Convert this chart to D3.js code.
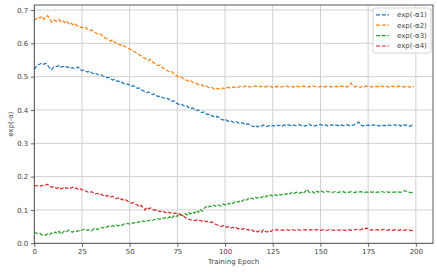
<!DOCTYPE html>
<html><head><meta charset="utf-8">
<script src="https://cdn.jsdelivr.net/npm/d3@7"></script>
<style>html,body{margin:0;padding:0;background:#fff;}svg{display:block;font-family:"DejaVu Sans",sans-serif;}</style>
</head><body>
<svg id="chart" width="437" height="274"></svg>
<script>
const seriesNames = ["exp(-α1)", "exp(-α2)", "exp(-α3)", "exp(-α4)"];
const colors = ["#1f77b4", "#ff7f0e", "#2ca02c", "#d62728"];
const xTicks = [0, 25, 50, 75, 100, 125, 150, 175, 200];
const yTicks = [0.0, 0.1, 0.2, 0.3, 0.4, 0.5, 0.6, 0.7];
const xLabel = "Training Epoch";
const yLabel = "exp(-α)";

const a1 = [
0.522,0.530,0.536,0.538,0.541,0.537,0.540,0.534,0.526,0.521,
0.528,0.532,0.530,0.534,0.529,0.531,0.527,0.530,0.528,0.525,
0.527,0.524,0.526,0.529,0.522,0.518,0.520,0.516,0.514,0.517,
0.512,0.509,0.511,0.507,0.505,0.506,0.502,0.500,0.497,0.498,
0.494,0.490,0.492,0.488,0.485,0.487,0.482,0.479,0.476,0.478,
0.474,0.471,0.473,0.468,0.465,0.466,0.461,0.458,0.455,0.452,
0.454,0.449,0.446,0.448,0.443,0.440,0.442,0.438,0.436,0.433,
0.435,0.429,0.426,0.428,0.422,0.419,0.416,0.418,0.414,0.410,
0.412,0.407,0.404,0.406,0.401,0.398,0.400,0.395,0.392,0.394,
0.389,0.386,0.388,0.383,0.380,0.378,0.381,0.376,0.372,0.370,
0.373,0.368,0.366,0.368,0.364,0.362,0.365,0.361,0.359,0.362,
0.358,0.356,0.359,0.355,0.352,0.350,0.354,0.349,0.353,0.351,
0.355,0.352,0.350,0.353,0.351,0.354,0.352,0.355,0.353,0.354,
0.352,0.355,0.353,0.356,0.354,0.352,0.355,0.353,0.354,0.356,
0.353,0.355,0.352,0.354,0.358,0.353,0.355,0.352,0.354,0.355,
0.357,0.354,0.353,0.355,0.352,0.354,0.356,0.353,0.355,0.354,
0.352,0.355,0.353,0.354,0.356,0.353,0.355,0.354,0.357,0.359,
0.364,0.356,0.352,0.354,0.353,0.355,0.352,0.354,0.356,0.353,
0.354,0.352,0.355,0.353,0.354,0.352,0.355,0.353,0.354,0.356,
0.353,0.355,0.352,0.357,0.354,0.355,0.353,0.351,0.355,0.357];

const a2 = [
0.668,0.674,0.679,0.676,0.681,0.672,0.678,0.683,0.675,0.664,
0.670,0.668,0.666,0.671,0.664,0.667,0.662,0.668,0.659,0.663,
0.656,0.660,0.655,0.651,0.648,0.649,0.645,0.647,0.642,0.638,
0.640,0.635,0.632,0.629,0.631,0.626,0.622,0.617,0.614,0.610,
0.607,0.611,0.603,0.601,0.598,0.594,0.597,0.592,0.589,0.586,
0.583,0.580,0.576,0.573,0.569,0.566,0.562,0.558,0.555,0.552,
0.548,0.552,0.544,0.540,0.536,0.533,0.535,0.528,0.524,0.520,
0.517,0.513,0.515,0.509,0.505,0.502,0.498,0.500,0.494,0.491,
0.489,0.486,0.488,0.483,0.481,0.479,0.476,0.478,0.474,0.471,
0.473,0.469,0.466,0.468,0.464,0.462,0.465,0.463,0.461,0.466,
0.464,0.467,0.468,0.466,0.469,0.467,0.470,0.468,0.471,0.469,
0.470,0.472,0.469,0.471,0.468,0.470,0.472,0.469,0.471,0.470,
0.472,0.469,0.471,0.473,0.470,0.468,0.471,0.469,0.472,0.470,
0.469,0.471,0.473,0.470,0.468,0.471,0.469,0.472,0.470,0.471,
0.469,0.472,0.470,0.468,0.471,0.469,0.472,0.470,0.471,0.469,
0.470,0.472,0.469,0.471,0.470,0.471,0.469,0.472,0.470,0.471,
0.469,0.472,0.470,0.471,0.469,0.474,0.481,0.473,0.469,0.472,
0.470,0.468,0.471,0.469,0.472,0.470,0.471,0.469,0.472,0.470,
0.471,0.469,0.472,0.470,0.468,0.471,0.469,0.472,0.470,0.471,
0.469,0.472,0.470,0.471,0.469,0.472,0.470,0.468,0.471,0.470];

const a3 = [
0.034,0.031,0.028,0.030,0.025,0.027,0.024,0.029,0.026,0.031,
0.028,0.034,0.030,0.036,0.027,0.033,0.038,0.035,0.040,0.036,
0.033,0.037,0.035,0.038,0.036,0.040,0.042,0.038,0.041,0.039,
0.037,0.043,0.046,0.041,0.045,0.048,0.046,0.050,0.048,0.052,
0.050,0.053,0.051,0.055,0.052,0.056,0.054,0.058,0.057,0.060,
0.058,0.062,0.060,0.064,0.062,0.065,0.063,0.067,0.065,0.069,
0.067,0.070,0.068,0.072,0.070,0.074,0.072,0.076,0.074,0.078,
0.076,0.080,0.074,0.082,0.078,0.084,0.080,0.086,0.083,0.089,
0.085,0.092,0.088,0.095,0.090,0.098,0.093,0.102,0.096,0.105,
0.110,0.107,0.112,0.109,0.114,0.111,0.116,0.113,0.112,0.118,
0.115,0.120,0.117,0.122,0.119,0.124,0.127,0.123,0.129,0.126,
0.131,0.128,0.134,0.131,0.136,0.133,0.138,0.135,0.140,0.137,
0.141,0.138,0.143,0.140,0.145,0.142,0.146,0.143,0.148,0.145,
0.147,0.150,0.146,0.151,0.148,0.153,0.149,0.152,0.154,0.150,
0.153,0.149,0.156,0.162,0.154,0.151,0.155,0.150,0.156,0.153,
0.158,0.155,0.153,0.156,0.154,0.155,0.153,0.154,0.156,0.152,
0.154,0.153,0.155,0.152,0.154,0.153,0.155,0.154,0.152,0.154,
0.153,0.155,0.154,0.152,0.154,0.153,0.155,0.153,0.154,0.152,
0.154,0.153,0.155,0.154,0.152,0.154,0.153,0.155,0.153,0.154,
0.152,0.154,0.153,0.155,0.158,0.156,0.154,0.152,0.153,0.151];

const a4 = [
0.174,0.172,0.173,0.171,0.174,0.172,0.175,0.177,0.171,0.168,
0.170,0.167,0.165,0.168,0.163,0.166,0.169,0.164,0.167,0.165,
0.168,0.163,0.166,0.162,0.164,0.160,0.161,0.157,0.154,0.152,
0.155,0.151,0.148,0.150,0.146,0.148,0.143,0.145,0.141,0.143,
0.139,0.141,0.137,0.134,0.136,0.131,0.133,0.128,0.130,0.126,
0.123,0.120,0.122,0.117,0.115,0.110,0.114,0.107,0.100,0.108,
0.104,0.106,0.102,0.099,0.101,0.097,0.095,0.098,0.094,0.092,
0.095,0.091,0.093,0.089,0.091,0.087,0.089,0.085,0.083,0.078,
0.074,0.072,0.070,0.071,0.068,0.070,0.067,0.069,0.066,0.068,
0.065,0.066,0.063,0.064,0.061,0.057,0.055,0.052,0.050,0.053,
0.051,0.048,0.050,0.046,0.048,0.045,0.047,0.043,0.045,0.042,
0.044,0.040,0.042,0.038,0.040,0.036,0.039,0.034,0.037,0.033,
0.041,0.036,0.034,0.038,0.035,0.040,0.039,0.041,0.040,0.039,
0.040,0.039,0.041,0.040,0.039,0.041,0.040,0.039,0.041,0.040,
0.039,0.040,0.041,0.039,0.040,0.041,0.039,0.040,0.040,0.041,
0.039,0.040,0.041,0.039,0.040,0.042,0.040,0.039,0.041,0.040,
0.039,0.041,0.040,0.039,0.040,0.041,0.039,0.041,0.040,0.042,
0.040,0.041,0.043,0.041,0.046,0.042,0.040,0.041,0.039,0.040,
0.041,0.039,0.040,0.042,0.040,0.039,0.041,0.040,0.039,0.041,
0.040,0.039,0.041,0.040,0.039,0.041,0.040,0.039,0.038,0.039];

const seriesValues = [a1, a2, a3, a4];

const svg = d3.select("#chart");
const L = 34.3, R = 433, T = 5, B = 243.3;
const x = d3.scaleLinear().domain([0, 209]).range([L, R]);
const y = d3.scaleLinear().domain([0, 0.715]).range([B, T]);

// grid
svg.append("g").selectAll("line").data(xTicks).join("line")
  .attr("x1", d => x(d)).attr("x2", d => x(d)).attr("y1", T).attr("y2", B)
  .attr("stroke", "#d0d0d0").attr("stroke-width", 1);
svg.append("g").selectAll("line").data(yTicks).join("line")
  .attr("x1", L).attr("x2", R).attr("y1", d => y(d)).attr("y2", d => y(d))
  .attr("stroke", "#d0d0d0").attr("stroke-width", 1);

// axes
const xAxis = d3.axisBottom(x).tickValues(xTicks).tickFormat(d3.format("d")).tickSize(3.5).tickPadding(2.5);
const yAxis = d3.axisLeft(y).tickValues(yTicks).tickFormat(d3.format(".1f")).tickSize(3.5).tickPadding(2.5);
const gx = svg.append("g").attr("transform", `translate(0,${B})`).call(xAxis);
const gy = svg.append("g").attr("transform", `translate(${L},0)`).call(yAxis);
[gx, gy].forEach(g => {
  g.select(".domain").remove();
  g.selectAll(".tick line").attr("stroke", "#444").attr("stroke-width", 0.8);
  g.selectAll(".tick text").attr("fill", "#444").style("font-size", "7px").style("font-family", "DejaVu Sans");
});

// lines
const line = d3.line().x((d, i) => x(i)).y(d => y(d));
const plot = svg.append("g");
seriesValues.forEach((vals, k) => {
  plot.append("path").datum(vals).attr("d", line)
    .attr("fill", "none").attr("stroke", colors[k]).attr("stroke-width", 1.2)
    .attr("stroke-dasharray", "4,1.8");
});

// frame
svg.append("rect").attr("x", L).attr("y", T).attr("width", R - L).attr("height", B - T)
  .attr("fill", "none").attr("stroke", "#444").attr("stroke-width", 0.9);

// labels
svg.append("text").attr("x", (L + R) / 2).attr("y", 263.5).attr("text-anchor", "middle")
  .style("font-size", "7px").attr("fill", "#444").text(xLabel);
svg.append("text").attr("transform", `translate(13,${(T + B) / 2}) rotate(-90)`).attr("text-anchor", "middle")
  .style("font-size", "7px").attr("fill", "#444").text(yLabel);

// legend
const lg = svg.append("g");
lg.append("rect").attr("x", 373).attr("y", 8).attr("width", 58).attr("height", 45).attr("rx", 2)
  .attr("fill", "#fff").attr("fill-opacity", 0.8).attr("stroke", "#ccc").attr("stroke-width", 0.8);
seriesNames.forEach((name, k) => {
  const yy = 14.8 + k * 10.4;
  lg.append("line").attr("x1", 376).attr("x2", 389).attr("y1", yy).attr("y2", yy)
    .attr("stroke", colors[k]).attr("stroke-width", 1.2).attr("stroke-dasharray", "4,1.8");
  lg.append("text").attr("x", 397).attr("y", yy).attr("dy", "0.35em")
    .style("font-size", "7px").attr("fill", "#444").text(name);
});
</script>
</body></html>
